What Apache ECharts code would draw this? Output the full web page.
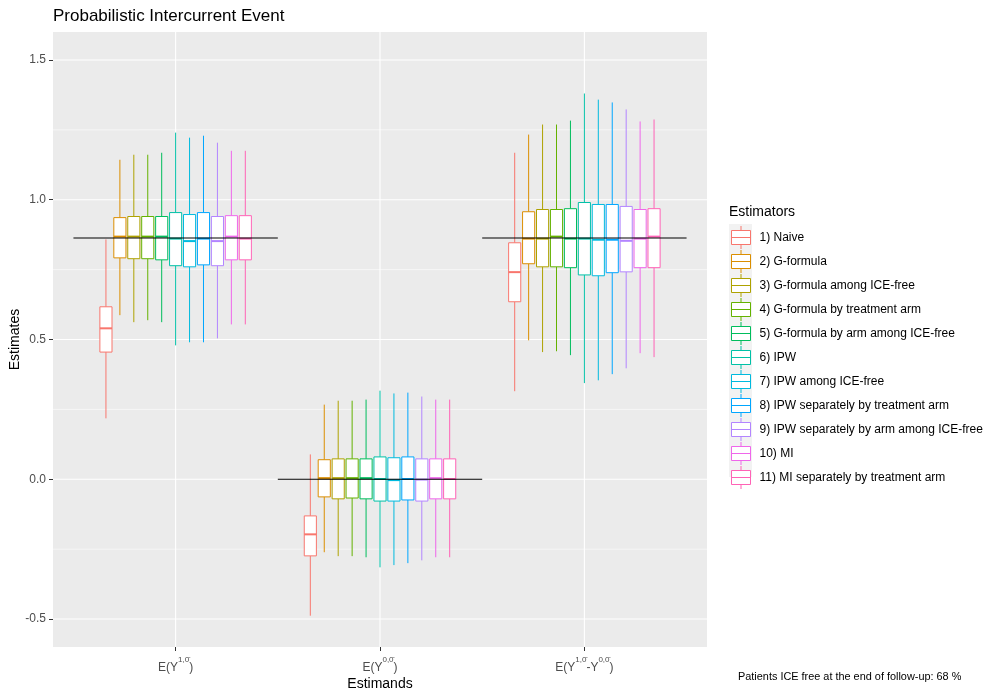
<!DOCTYPE html>
<html>
<head>
<meta charset="utf-8">
<script src="https://cdn.jsdelivr.net/npm/echarts@6/dist/echarts.min.js"></script>
<style>
  html, body { margin: 0; padding: 0; background: #fff; }
  #main { width: 1000px; height: 700px; }
</style>
</head>
<body>
<div id="main"></div>
<script>
// estimands on the x axis (rich text labels, superscripts with a bar over 0)
var estimandPos = [1, 2, 3];
var estimandLabels = [
  '{m|E(Y}{s|1,0\u0304}{m|)}',
  '{m|E(Y}{s|0,0\u0304}{m|)}',
  '{m|E(Y}{s|1,0\u0304}{m|-Y}{s|0,0\u0304}{m|)}'
];
var truth = [0.863, 0, 0.863];

var estimators = [
  '1) Naive',
  '2) G-formula',
  '3) G-formula among ICE-free',
  '4) G-formula by treatment arm',
  '5) G-formula by arm among ICE-free',
  '6) IPW',
  '7) IPW among ICE-free',
  '8) IPW separately by treatment arm',
  '9) IPW separately by arm among ICE-free',
  '10) MI',
  '11) MI separately by treatment arm'
];
var colors = ['#F8766D', '#DB8E00', '#AEA200', '#64B200', '#00BD5C', '#00C1A7',
  '#00BADE', '#00A6FF', '#B385FF', '#EF67EB', '#FF63B6'];

// [low, q1, median, q3, high] per estimand
var naive      = [[0.218, 0.455, 0.540, 0.617, 0.858], [-0.488, -0.274, -0.197, -0.131, 0.089], [0.315, 0.635, 0.741, 0.846, 1.168]];
var gform      = [[0.587, 0.792, 0.868, 0.936, 1.143], [-0.261, -0.063, 0.004, 0.070, 0.267], [0.497, 0.771, 0.861, 0.957, 1.233]];
var gformFree  = [[0.562, 0.789, 0.868, 0.940, 1.161], [-0.275, -0.070, 0.004, 0.073, 0.281], [0.455, 0.760, 0.861, 0.965, 1.269]];
var gformArm   = [[0.569, 0.789, 0.868, 0.940, 1.161], [-0.275, -0.067, 0.004, 0.073, 0.281], [0.458, 0.760, 0.868, 0.965, 1.269]];
var gformArmFree = [[0.562, 0.785, 0.868, 0.940, 1.168], [-0.279, -0.070, 0.004, 0.073, 0.285], [0.444, 0.757, 0.861, 0.968, 1.283]];
var ipw        = [[0.479, 0.764, 0.861, 0.954, 1.240], [-0.315, -0.078, 0.001, 0.080, 0.317], [0.344, 0.731, 0.861, 0.990, 1.380]];
var ipwFree    = [[0.490, 0.760, 0.852, 0.947, 1.222], [-0.307, -0.078, -0.003, 0.077, 0.307], [0.354, 0.728, 0.857, 0.983, 1.358]];
var ipwArm     = [[0.490, 0.767, 0.861, 0.954, 1.229], [-0.300, -0.074, 0.001, 0.080, 0.310], [0.376, 0.739, 0.857, 0.983, 1.348]];
var ipwArmFree = [[0.504, 0.764, 0.852, 0.940, 1.204], [-0.290, -0.078, -0.001, 0.073, 0.296], [0.397, 0.742, 0.853, 0.976, 1.323]];
var mi         = [[0.554, 0.785, 0.868, 0.943, 1.175], [-0.279, -0.070, 0.004, 0.073, 0.285], [0.451, 0.757, 0.861, 0.965, 1.280]];
var miArm      = [[0.554, 0.785, 0.861, 0.943, 1.175], [-0.279, -0.070, 0.001, 0.073, 0.285], [0.437, 0.757, 0.868, 0.968, 1.287]];
var allStats = [naive, gform, gformFree, gformArm, gformArmFree, ipw, ipwFree, ipwArm, ipwArmFree, mi, miArm];

var yTicks = [-0.5, 0, 0.5, 1, 1.5];
var yMinor = [-0.25, 0.25, 0.75, 1.25];

var font = 'Liberation Sans, Arial, sans-serif';
var boxIcon = 'path://M9.5,0L9.5,4.5M0,4.5L19,4.5L19,18.5L0,18.5ZM0,11.5L19,11.5M9.5,18.5L9.5,23';

var chart = echarts.init(document.getElementById('main'));

// one box (whiskers, box, median) per estimand, dodged by estimator index
function boxRender(k, color) {
  return function (params, api) {
    var x = api.value(0);
    var unit = api.size([1, 0])[0];
    var step = unit * 0.75 / estimators.length;
    var w = step * 0.87;
    var pLow = api.coord([x, api.value(1)]);
    var pQ1 = api.coord([x, api.value(2)]);
    var pMed = api.coord([x, api.value(3)]);
    var pQ3 = api.coord([x, api.value(4)]);
    var pHigh = api.coord([x, api.value(5)]);
    var cx = pLow[0] + (k - (estimators.length - 1) / 2) * step;
    var st = { stroke: color, lineWidth: 1, fill: null };
    return {
      type: 'group',
      children: [
        { type: 'line', shape: { x1: cx, y1: pHigh[1], x2: cx, y2: pQ3[1] }, style: st },
        { type: 'line', shape: { x1: cx, y1: pQ1[1], x2: cx, y2: pLow[1] }, style: st },
        { type: 'rect', shape: { x: cx - w / 2, y: pQ3[1], width: w, height: pQ1[1] - pQ3[1] },
          style: { stroke: color, lineWidth: 1, fill: '#fff' } },
        { type: 'line', shape: { x1: cx - w / 2, y1: pMed[1], x2: cx + w / 2, y2: pMed[1] },
          style: { stroke: color, lineWidth: 2 } }
      ]
    };
  };
}

var series = [];

// grid lines: [0, y, major] horizontal, [x, 0, 2] vertical
var gridData = yTicks.map(function (v) { return [1, v, 1]; })
  .concat(yMinor.map(function (v) { return [1, v, 0]; }))
  .concat(estimandPos.map(function (p) { return [p, 0, 2]; }));
series.push({
  type: 'custom', silent: true, z: 1,
  data: gridData,
  encode: { x: 0, y: 1 },
  renderItem: function (params, api) {
    var cs = params.coordSys;
    var p = api.coord([api.value(0), api.value(1)]);
    var kind = api.value(2);
    if (kind === 2) {
      return { type: 'line', shape: { x1: p[0], y1: cs.y, x2: p[0], y2: cs.y + cs.height },
        style: { stroke: '#fff', lineWidth: 1.1 } };
    }
    return { type: 'line', shape: { x1: cs.x, y1: p[1], x2: cs.x + cs.width, y2: p[1] },
      style: { stroke: '#fff', lineWidth: kind ? 1.1 : 0.55 } };
  }
});

estimators.forEach(function (name, k) {
  series.push({
    name: name,
    type: 'custom',
    z: 2,
    itemStyle: { color: colors[k] },
    encode: { x: 0, y: [1, 2, 3, 4, 5] },
    data: allStats[k].map(function (s, j) { return [estimandPos[j]].concat(s); }),
    renderItem: boxRender(k, colors[k])
  });
});

// true value line across each estimand
series.push({
  type: 'custom', silent: true, z: 3,
  data: estimandPos.map(function (p, j) { return [p, truth[j]]; }),
  encode: { x: 0, y: 1 },
  renderItem: function (params, api) {
    var a = api.coord([api.value(0) - 0.5, api.value(1)]);
    var b = api.coord([api.value(0) + 0.5, api.value(1)]);
    return { type: 'line', shape: { x1: a[0], y1: a[1], x2: b[0], y2: b[1] },
      style: { stroke: '#000', lineWidth: 1.1 } };
  }
});

chart.setOption({
  animation: false,
  backgroundColor: '#fff',
  textStyle: { fontFamily: font },
  title: {
    text: 'Probabilistic Intercurrent Event',
    left: 48, top: 3,
    textStyle: { fontFamily: font, fontSize: 17, fontWeight: 'normal', color: '#000' }
  },
  grid: {
    left: 53, top: 32, width: 654, height: 615,
    outerBoundsMode: 'none', containLabel: false,
    show: true, backgroundColor: '#EBEBEB', borderWidth: 0
  },
  xAxis: {
    type: 'value', min: 0.4, max: 3.6,
    name: 'Estimands', nameLocation: 'middle', nameGap: 30, nameMoveOverlap: false,
    nameTextStyle: { fontFamily: font, fontSize: 14, color: '#000' },
    axisLine: { show: false, onZero: false },
    splitLine: { show: false },
    axisTick: { show: true, length: 4, customValues: estimandPos, lineStyle: { color: '#333', width: 1 } },
    axisLabel: {
      customValues: estimandPos, margin: 9,
      formatter: function (v) { return estimandLabels[estimandPos.indexOf(v)] || ''; },
      rich: {
        m: { fontFamily: font, fontSize: 12, color: '#4D4D4D', lineHeight: 18, verticalAlign: 'bottom' },
        s: { fontFamily: font, fontSize: 8, color: '#4D4D4D', lineHeight: 18, verticalAlign: 'top' }
      }
    }
  },
  yAxis: {
    type: 'value', min: -0.6, max: 1.6,
    name: 'Estimates', nameLocation: 'middle', nameGap: 31, nameMoveOverlap: false,
    nameTextStyle: { fontFamily: font, fontSize: 14, color: '#000' },
    axisLine: { show: false, onZero: false },
    splitLine: { show: false },
    axisTick: { show: true, length: 4, customValues: yTicks, lineStyle: { color: '#333', width: 1 } },
    axisLabel: {
      customValues: yTicks, margin: 7,
      fontFamily: font, fontSize: 12, color: '#4D4D4D',
      formatter: function (v) { return v.toFixed(1); }
    }
  },
  legend: {
    orient: 'vertical', left: 731, top: 225.5, padding: 0,
    itemWidth: 19, itemHeight: 23, itemGap: 0,
    selectedMode: false,
    textStyle: { fontFamily: font, fontSize: 12, color: '#000', padding: [0, 0, 0, 4] },
    data: estimators.map(function (n, k) {
      return { name: n, icon: boxIcon, itemStyle: { color: '#fff', borderColor: colors[k], borderWidth: 1 } };
    })
  },
  graphic: [
    { type: 'rect', left: 729, top: 224, z: -1, shape: { width: 23, height: 253 }, style: { fill: '#F2F2F2' } },
    { type: 'text', left: 729, top: 205, style: { text: 'Estimators', fontFamily: font, fontSize: 14, fill: '#000' } },
    { type: 'text', left: 738, top: 671, style: { text: 'Patients ICE free at the end of follow-up: 68 %', fontFamily: font, fontSize: 10.9, fill: '#000' } }
  ],
  series: series
});
</script>
</body>
</html>
